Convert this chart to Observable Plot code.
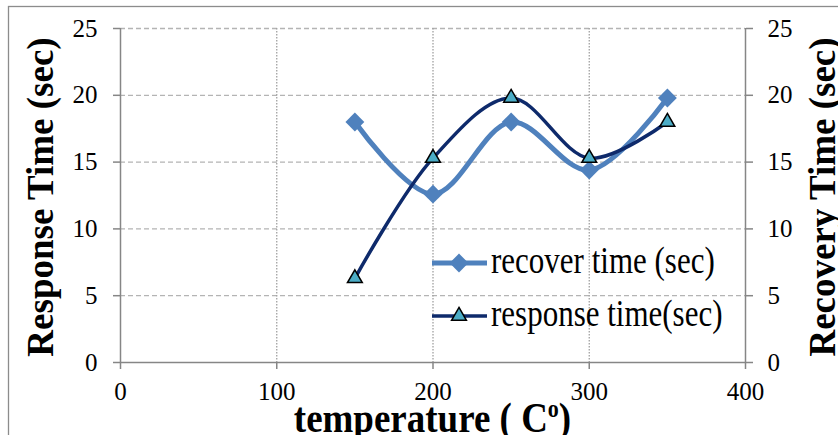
<!DOCTYPE html>
<html><head><meta charset="utf-8">
<script src="https://cdn.jsdelivr.net/npm/d3@7"></script>
<script src="https://cdn.jsdelivr.net/npm/@observablehq/plot@0.6"></script>
<style>body{margin:0;background:#fff}</style>
</head><body><div id="chart"></div>
<script>
const temperatures = [150, 200, 250, 300, 350];
const recoverTime = [18, 12.6, 18, 14.4, 19.8];
const responseTime = [6.3, 15.3, 19.8, 15.3, 18];
const xTicks = [0, 100, 200, 300, 400];
const yTicks = [0, 5, 10, 15, 20, 25];
const seriesNames = ["recover time (sec)", "response time(sec)"];
const xTitle = "temperature ( C";
const leftTitle = "Response Time (sec)";
const rightTitle = "Recovery Time (sec)";

const recoverData = temperatures.map((t, i) => ({t, v: recoverTime[i]}));
const responseData = temperatures.map((t, i) => ({t, v: responseTime[i]}));

const recoverColor = "#4F81BD";
const responseColor = "#0E2A6B";
const triFill = "#4BACC6";
const axisGray = "#868686";
const serif = "'Liberation Serif', 'Times New Roman', serif";

const svg = Plot.plot({
  width: 838, height: 435,
  marginLeft: 120, marginRight: 93, marginTop: 28, marginBottom: 73,
  style: {fontFamily: serif, fontSize: "25px", color: "#000", background: "#fff", overflow: "visible"},
  x: {domain: [0, 400]},
  y: {domain: [0, 25]},
  marks: [
    Plot.gridY(yTicks.filter(d => d > 0), {stroke: "#b4b4b4", strokeOpacity: 1, strokeWidth: 1.3, strokeDasharray: "5,3"}),
    Plot.gridX(xTicks.filter(d => d > 0 && d < 400), {stroke: "#a0a0a0", strokeOpacity: 1, strokeWidth: 1.3, strokeDasharray: "1.5,1.5"}),
    Plot.ruleX([0, 400], {stroke: axisGray, strokeWidth: 1.5}),
    Plot.ruleY([0], {stroke: axisGray, strokeWidth: 1.5}),
    Plot.axisY({ticks: yTicks, anchor: "left", tickSize: 7, tickPadding: 16, label: null, stroke: axisGray, strokeWidth: 1.5, fill: "#000"}),
    Plot.axisY({ticks: yTicks, anchor: "right", tickSize: 7, tickPadding: 15, label: null, stroke: axisGray, strokeWidth: 1.5, fill: "#000"}),
    Plot.axisX({ticks: xTicks, tickSize: 7, tickPadding: 13, label: null, stroke: axisGray, strokeWidth: 1.5, fill: "#000", tickFormat: d => String(d)}),
    Plot.line(recoverData, {x: "t", y: "v", curve: "catmull-rom", stroke: recoverColor, strokeWidth: 5}),
    Plot.dot(recoverData, {x: "t", y: "v", symbol: "diamond2", r: 8.5, fill: recoverColor, stroke: "none"}),
    Plot.line(responseData, {x: "t", y: "v", curve: "catmull-rom", stroke: responseColor, strokeWidth: 3.5}),
    Plot.dot(responseData, {x: "t", y: "v", symbol: "triangle", r: 5.5, fill: triFill, stroke: "#000", strokeWidth: 1.5})
  ]
});

const s = d3.select(svg);
// outer frame (image crop shows top and left edges)
s.insert("rect", ":first-child").attr("x", 8.5).attr("y", 6.5).attr("width", 900).attr("height", 500)
  .attr("fill", "none").attr("stroke", "#8c8c8c").attr("stroke-width", 1.3);

// axis titles
s.append("text").attr("transform", "translate(53,197) rotate(-90)")
  .attr("text-anchor", "middle").attr("font-weight", "bold").attr("font-size", 37)
  .attr("font-family", serif).attr("fill", "#000").text(leftTitle);
s.append("text").attr("transform", "translate(835,197) rotate(-90)")
  .attr("text-anchor", "middle").attr("font-weight", "bold").attr("font-size", 37)
  .attr("font-family", serif).attr("fill", "#000").text(rightTitle);
const xt = s.append("text").attr("transform", "translate(432.5,432) scale(1,1.15)")
  .attr("text-anchor", "middle").attr("font-weight", "bold").attr("font-size", 37)
  .attr("font-family", serif).attr("fill", "#000");
xt.append("tspan").text(xTitle);
xt.append("tspan").attr("font-size", 22).attr("dy", -13).text("o");
xt.append("tspan").attr("dy", 13).text(")");

// legend
const legend = s.append("g");
const rows = [
  {name: seriesNames[0], color: recoverColor, width: 5, sym: "diamond", base: 273},
  {name: seriesNames[1], color: responseColor, width: 3.5, sym: "triangle", base: 326}
];
rows.forEach(r => {
  const cy = r.base - 10;
  legend.append("line").attr("x1", 432).attr("x2", 487).attr("y1", cy).attr("y2", cy)
    .attr("stroke", r.color).attr("stroke-width", r.width);
  if (r.sym === "diamond") {
    legend.append("path").attr("transform", `translate(459,${cy})`)
      .attr("d", d3.symbol(d3.symbolDiamond2, Math.PI * 8.5 * 8.5)()).attr("fill", r.color);
  } else {
    legend.append("path").attr("transform", `translate(459,${cy})`)
      .attr("d", d3.symbol(d3.symbolTriangle, Math.PI * 5.5 * 5.5)())
      .attr("fill", triFill).attr("stroke", "#000").attr("stroke-width", 1.5);
  }
  legend.append("text").attr("transform", `translate(491,${r.base}) scale(1,1.2)`)
    .attr("text-anchor", "start")
    .attr("font-size", 31).attr("font-family", serif).attr("fill", "#000").text(r.name);
});

document.getElementById("chart").appendChild(svg);
</script>
</body></html>
